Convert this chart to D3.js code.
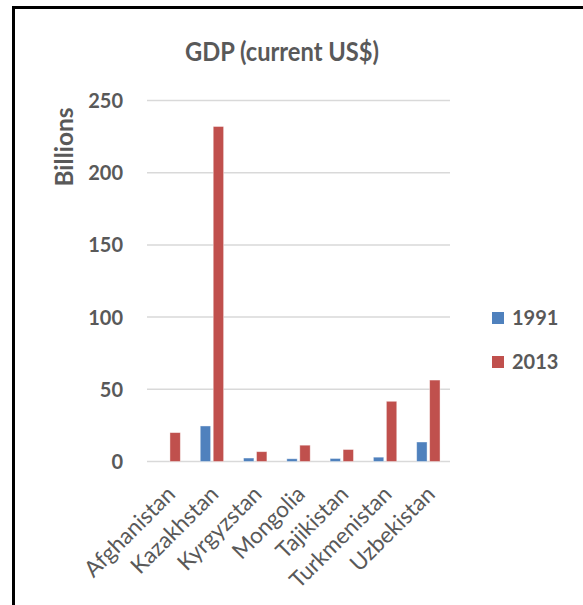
<!DOCTYPE html>
<html>
<head>
<meta charset="utf-8">
<script src="https://cdn.jsdelivr.net/npm/d3@7/dist/d3.min.js"></script>
<style>
  html, body { margin: 0; padding: 0; background: #fff; }
  svg { display: block; }
</style>
</head>
<body>
<svg id="chart" width="583" height="605"></svg>
<script>
const categories = ["Afghanistan", "Kazakhstan", "Kyrgyzstan", "Mongolia", "Tajikistan", "Turkmenistan", "Uzbekistan"];
const seriesNames = ["1991", "2013"];
const values1991 = [null, 24.6, 2.4, 1.9, 2.1, 3.0, 13.5];
const values2013 = [20.0, 232.0, 6.8, 11.3, 8.3, 41.7, 56.4];
const yTicks = [0, 50, 100, 150, 200, 250];
const colors = ["#4F81BD", "#C0504D"];

const font = "Lato, 'Open Sans', sans-serif";
const textColor = "#595959";

const svg = d3.select("#chart");

// outer border
svg.append("rect")
  .attr("x", 13.5).attr("y", 7.5)
  .attr("width", 620).attr("height", 640)
  .attr("fill", "none").attr("stroke", "#000").attr("stroke-width", 3);

const plot = { left: 147, right: 450, top: 100.5, bottom: 461.5 };

const x0 = d3.scaleBand().domain(categories).range([plot.left, plot.right]).paddingInner(0).paddingOuter(0);
const bw = x0.bandwidth();
const x1 = d3.scaleBand().domain(seriesNames).range([bw * 0.23, bw * 0.77]).paddingInner(0.2);
const y = d3.scaleLinear().domain([0, 250]).range([plot.bottom, plot.top]);

// gridlines
svg.append("g").selectAll("line").data(yTicks).join("line")
  .attr("x1", plot.left).attr("x2", plot.right)
  .attr("y1", d => y(d)).attr("y2", d => y(d))
  .attr("stroke", "#d9d9d9").attr("stroke-width", 1.5);

// y axis via d3.axisLeft
const yAxis = svg.append("g")
  .attr("transform", `translate(${plot.left - 24},0)`)
  .call(d3.axisLeft(y).tickValues(yTicks).tickSize(0).tickPadding(0));
yAxis.select(".domain").remove();
yAxis.selectAll("text")
  .attr("font-family", font).attr("font-size", 20).attr("font-weight", "bold")
  .attr("fill", textColor).attr("dy", "0.35em");

// bars
const rows = categories.map((c, i) => ({ cat: c, vals: [values1991[i], values2013[i]] }));
const groups = svg.append("g").selectAll("g").data(rows).join("g")
  .attr("transform", d => `translate(${x0(d.cat)},0)`);
groups.selectAll("rect")
  .data(d => d.vals.map((v, j) => ({ s: seriesNames[j], v, j })).filter(e => e.v != null))
  .join("rect")
  .attr("x", d => x1(d.s))
  .attr("width", x1.bandwidth())
  .attr("y", d => y(d.v))
  .attr("height", d => y(0) - y(d.v))
  .attr("fill", d => colors[d.j])
  .attr("stroke", "#fff").attr("stroke-opacity", 0.5).attr("stroke-width", 0.8);

// x axis labels
const xAxis = svg.append("g")
  .attr("transform", `translate(0,${plot.bottom})`)
  .call(d3.axisBottom(x0).tickSize(0).tickPadding(0));
xAxis.select(".domain").remove();
xAxis.selectAll("text")
  .attr("font-family", font).attr("font-size", 22.5)
  .attr("fill", textColor)
  .attr("text-anchor", "end")
  .attr("dy", 0)
  .attr("transform", "translate(8,34) rotate(-45)");

// title
svg.append("text")
  .attr("x", 282).attr("y", 61)
  .attr("text-anchor", "middle")
  .attr("font-family", font).attr("font-size", 27).attr("font-weight", "bold")
  .attr("fill", textColor)
  .attr("textLength", 194).attr("lengthAdjust", "spacingAndGlyphs")
  .text("GDP (current US$)");

// y axis title
svg.append("text")
  .attr("transform", "translate(73,147) rotate(-90)")
  .attr("text-anchor", "middle")
  .attr("font-family", font).attr("font-size", 24.5).attr("font-weight", "bold")
  .attr("fill", textColor)
  .text("Billions");

// legend
const legend = svg.append("g").selectAll("g").data(seriesNames).join("g")
  .attr("transform", (d, i) => `translate(492,${318 + i * 44})`);
legend.append("rect")
  .attr("x", 0).attr("y", -6).attr("width", 12).attr("height", 12)
  .attr("fill", (d, i) => colors[i]);
legend.append("text")
  .attr("x", 20).attr("y", 0).attr("dy", "0.36em")
  .attr("font-family", font).attr("font-size", 20).attr("font-weight", "bold")
  .attr("fill", textColor)
  .text(d => d);
</script>
</body>
</html>
